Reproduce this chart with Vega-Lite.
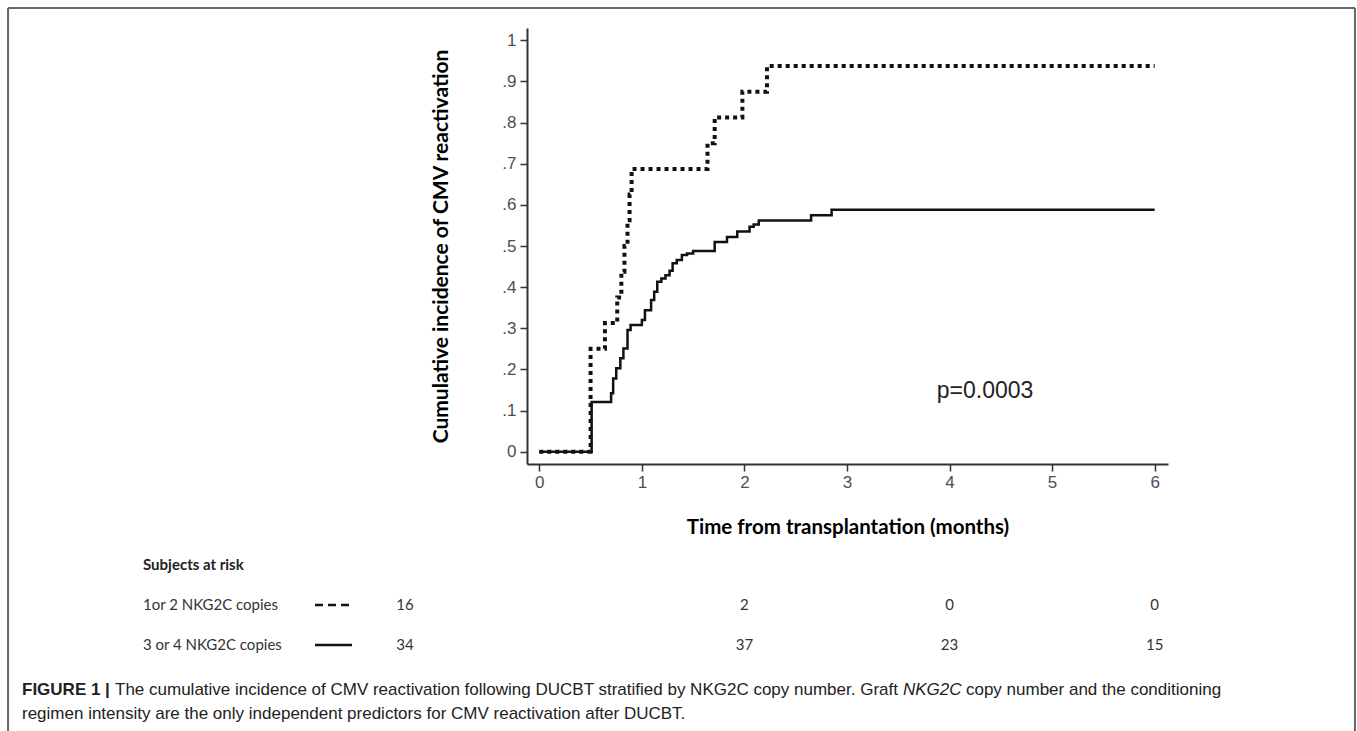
{
  "$schema": "https://vega.github.io/schema/vega-lite/v6.json",
  "width": 641,
  "height": 436,
  "autosize": "none",
  "padding": {"left": 527, "top": 28, "right": 189, "bottom": 267},
  "background": "white",
  "config": {"view": {"stroke": null}},
  "datasets": {
    "solid": [
      {"x": 0, "y": 0}, {"x": 0.51, "y": 0.121}, {"x": 0.70, "y": 0.142}, {"x": 0.72, "y": 0.178},
      {"x": 0.75, "y": 0.203}, {"x": 0.79, "y": 0.227}, {"x": 0.82, "y": 0.251}, {"x": 0.86, "y": 0.296},
      {"x": 0.89, "y": 0.308}, {"x": 1.00, "y": 0.32}, {"x": 1.03, "y": 0.344}, {"x": 1.09, "y": 0.369},
      {"x": 1.12, "y": 0.389}, {"x": 1.15, "y": 0.413}, {"x": 1.19, "y": 0.421}, {"x": 1.23, "y": 0.429},
      {"x": 1.27, "y": 0.44}, {"x": 1.30, "y": 0.458}, {"x": 1.34, "y": 0.466}, {"x": 1.39, "y": 0.478},
      {"x": 1.44, "y": 0.482}, {"x": 1.50, "y": 0.488}, {"x": 1.71, "y": 0.51}, {"x": 1.83, "y": 0.522},
      {"x": 1.93, "y": 0.535}, {"x": 2.05, "y": 0.547}, {"x": 2.09, "y": 0.552}, {"x": 2.14, "y": 0.562},
      {"x": 2.65, "y": 0.575}, {"x": 2.85, "y": 0.588}, {"x": 6.0, "y": 0.588}
    ],
    "dotted": [
      {"x": 0, "y": 0}, {"x": 0.50, "y": 0.25}, {"x": 0.64, "y": 0.3125}, {"x": 0.76, "y": 0.375},
      {"x": 0.80, "y": 0.4375}, {"x": 0.83, "y": 0.5}, {"x": 0.86, "y": 0.5625}, {"x": 0.88, "y": 0.625},
      {"x": 0.90, "y": 0.6875}, {"x": 1.64, "y": 0.75}, {"x": 1.71, "y": 0.8125}, {"x": 1.98, "y": 0.875},
      {"x": 2.22, "y": 0.9375}, {"x": 6.0, "y": 0.9375}
    ],
    "grid": [
      {"y": 0}, {"y": 0.1}, {"y": 0.2}, {"y": 0.3}, {"y": 0.4}, {"y": 0.5}, {"y": 0.6}, {"y": 0.7}, {"y": 0.8}, {"y": 0.9}
    ],
    "frame": [
      {"x": -5.18, "y": 1.0786, "x2": 7.953, "y2": 1.0786},
      {"x": -5.18, "y": 1.0786, "x2": -5.18, "y2": -0.70},
      {"x": 7.953, "y": 1.0786, "x2": 7.953, "y2": -0.70}
    ],
    "header": [{"x": -3.864, "y": -0.2756, "label": "Subjects at risk"}],
    "rowLabels": [
      {"x": -3.864, "y": -0.3729, "label": "1or 2 NKG2C copies"},
      {"x": -3.864, "y": -0.4701, "label": "3 or 4 NKG2C copies"}
    ],
    "atrisk": [
      {"x": -1.31, "y": -0.3729, "label": "16"}, {"x": 2, "y": -0.3729, "label": "2"},
      {"x": 4, "y": -0.3729, "label": "0"}, {"x": 6, "y": -0.3729, "label": "0"},
      {"x": -1.31, "y": -0.4701, "label": "34"}, {"x": 2, "y": -0.4701, "label": "37"},
      {"x": 4, "y": -0.4701, "label": "23"}, {"x": 6, "y": -0.4701, "label": "15"}
    ],
    "legendDash": [{"x": -2.187, "y": -0.3729, "x2": -1.826}],
    "legendSolid": [{"x": -2.187, "y": -0.4701, "x2": -1.826}],
    "pval": [{"x": 4.346, "y": 0.147, "label": "p=0.0003"}],
    "capBold": [{"x": -5.044, "y": -0.5796, "label": "FIGURE 1 |"}],
    "capReg": [
      {"x": -4.137, "y": -0.5796, "label": "The cumulative incidence of CMV reactivation following DUCBT stratified by NKG2C copy number. Graft"},
      {"x": 4.160, "y": -0.5796, "label": "copy number and the conditioning"},
      {"x": -5.044, "y": -0.6379, "label": "regimen intensity are the only independent predictors for CMV reactivation after DUCBT."}
    ],
    "capItal": [{"x": 3.546, "y": -0.5796, "label": "NKG2C"}]
  },
  "encoding": {
    "x": {
      "field": "x", "type": "quantitative",
      "scale": {"domain": [-0.12, 6.13], "nice": false, "zero": false},
      "axis": {
        "title": "Time from transplantation (months)",
        "titleFont": "Lato", "titleFontSize": 20.5, "titleFontWeight": "bold", "titleColor": "#000",
        "titlePadding": 27,
        "values": [0, 1, 2, 3, 4, 5, 6], "format": "d",
        "labelFont": "Liberation Sans", "labelFontSize": 17, "labelColor": "#4d4d5a", "labelPadding": 3,
        "domainColor": "#333", "domainWidth": 2, "tickColor": "#333", "tickWidth": 1.5, "tickSize": 7,
        "grid": false
      }
    },
    "y": {
      "field": "y", "type": "quantitative",
      "scale": {"domain": [-0.03, 1.03], "nice": false, "zero": false},
      "axis": {
        "title": "Cumulative incidence of CMV reactivation",
        "titleFont": "Lato", "titleFontSize": 21, "titleFontWeight": "bold", "titleColor": "#000",
        "titlePadding": 50,
        "values": [0, 0.1, 0.2, 0.3, 0.4, 0.5, 0.6, 0.7, 0.8, 0.9, 1],
        "labelExpr": "datum.value == 0 ? '0' : (datum.value == 1 ? '1' : replace(format(datum.value, '.1f'), '0.', '.'))",
        "labelFont": "Liberation Sans", "labelFontSize": 17, "labelColor": "#4d4d5a", "labelPadding": 4,
        "domainColor": "#333", "domainWidth": 2, "tickColor": "#333", "tickWidth": 1.5, "tickSize": 7,
        "grid": false
      }
    }
  },
  "layer": [
    {
      "data": {"name": "grid"},
      "mark": {"type": "rule", "color": "#e6eff1", "strokeWidth": 1.5},
      "encoding": {"x": {"datum": -0.09}, "x2": {"datum": 6.13}}
    },
    {
      "data": {"name": "frame"},
      "mark": {"type": "rule", "color": "#666", "strokeWidth": 2},
      "encoding": {"x2": {"field": "x2"}, "y2": {"field": "y2"}}
    },
    {
      "data": {"name": "solid"},
      "mark": {"type": "line", "interpolate": "step-after", "color": "#111", "strokeWidth": 2.5},
      "encoding": {}
    },
    {
      "data": {"name": "dotted"},
      "mark": {"type": "line", "interpolate": "step-after", "color": "#111", "strokeWidth": 4, "strokeDash": [4, 4]},
      "encoding": {}
    },
    {
      "data": {"name": "pval"},
      "mark": {"type": "text", "font": "Liberation Sans", "fontSize": 23, "color": "#222", "align": "center", "baseline": "middle"},
      "encoding": {"text": {"field": "label"}}
    },
    {
      "data": {"name": "header"},
      "mark": {"type": "text", "font": "Lato", "fontSize": 15, "fontWeight": "bold", "color": "#222", "align": "left", "baseline": "middle"},
      "encoding": {"text": {"field": "label"}}
    },
    {
      "data": {"name": "rowLabels"},
      "mark": {"type": "text", "font": "Lato", "fontSize": 15, "color": "#333", "align": "left", "baseline": "middle"},
      "encoding": {"text": {"field": "label"}}
    },
    {
      "data": {"name": "atrisk"},
      "mark": {"type": "text", "font": "Lato", "fontSize": 15, "color": "#333", "align": "center", "baseline": "middle"},
      "encoding": {"text": {"field": "label"}}
    },
    {
      "data": {"name": "legendDash"},
      "mark": {"type": "rule", "color": "#111", "strokeWidth": 2.5, "strokeDash": [8, 5]},
      "encoding": {"x2": {"field": "x2"}}
    },
    {
      "data": {"name": "legendSolid"},
      "mark": {"type": "rule", "color": "#111", "strokeWidth": 2.5},
      "encoding": {"x2": {"field": "x2"}}
    },
    {
      "data": {"name": "capBold"},
      "mark": {"type": "text", "font": "Liberation Sans", "fontSize": 17, "fontWeight": "bold", "color": "#222", "align": "left", "baseline": "middle"},
      "encoding": {"text": {"field": "label"}}
    },
    {
      "data": {"name": "capReg"},
      "mark": {"type": "text", "font": "Liberation Sans", "fontSize": 17, "color": "#222", "align": "left", "baseline": "middle"},
      "encoding": {"text": {"field": "label"}}
    },
    {
      "data": {"name": "capItal"},
      "mark": {"type": "text", "font": "Liberation Sans", "fontSize": 17, "fontStyle": "italic", "color": "#222", "align": "left", "baseline": "middle"},
      "encoding": {"text": {"field": "label"}}
    }
  ]
}
